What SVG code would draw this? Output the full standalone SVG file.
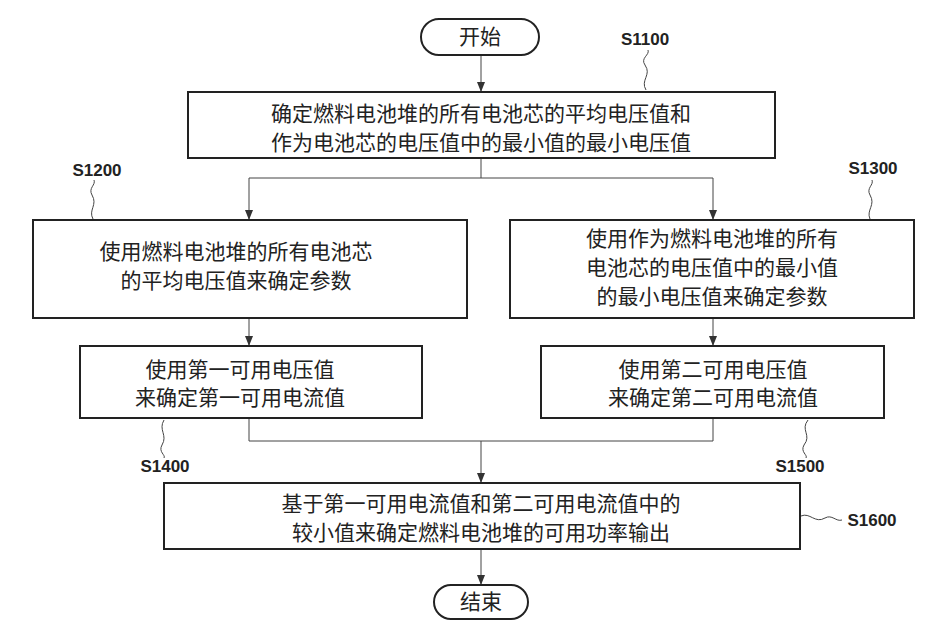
<svg xmlns="http://www.w3.org/2000/svg" width="925" height="638" viewBox="0 0 925 638">
<style>
.b{fill:#fff;stroke:#222;stroke-width:2}
.t{font-family:"Liberation Sans","Noto Sans CJK SC",sans-serif;font-size:21px;fill:#222;text-anchor:middle}
.l{font-family:"Liberation Sans",sans-serif;font-size:17px;font-weight:bold;fill:#222;text-anchor:middle}
.c{fill:none;stroke:#444;stroke-width:1}
</style>
<defs><marker id="a" markerWidth="10" markerHeight="8" refX="9" refY="4" orient="auto" markerUnits="userSpaceOnUse"><path d="M0,0 L10,4 L0,8 Z" fill="#333"/></marker></defs>
<rect width="925" height="638" fill="#fff"/>
<g id="connectors">
<line class="c" x1="481" y1="55" x2="481" y2="91" marker-end="url(#a)"/>
<path class="c" d="M481,158 V178 M249,178 H713"/>
<line class="c" x1="249" y1="178" x2="249" y2="219" marker-end="url(#a)"/>
<line class="c" x1="713" y1="178" x2="713" y2="219" marker-end="url(#a)"/>
<line class="c" x1="249" y1="318" x2="249" y2="345" marker-end="url(#a)"/>
<line class="c" x1="713" y1="318" x2="713" y2="345" marker-end="url(#a)"/>
<path class="c" d="M249,418 V441 H713 V418"/>
<line class="c" x1="481" y1="441" x2="481" y2="482" marker-end="url(#a)"/>
<line class="c" x1="481" y1="549" x2="481" y2="584" marker-end="url(#a)"/>
<path class="c" d="M646,90 C640,80 652,75 645,65 C640,58 650,55 648,50"/>
<path class="c" d="M93,219 C88,210 98,205 92,195 C88,188 96,185 94,180"/>
<path class="c" d="M870,219 C866,210 876,205 870,195 C866,188 874,185 872,180"/>
<path class="c" d="M164,420 C158,430 168,435 162,445 C158,452 166,455 164,458"/>
<path class="c" d="M808,420 C800,430 812,435 804,445 C800,452 808,455 806,458"/>
<path class="c" d="M801,516 C810,512 815,524 825,518 C832,514 836,522 842,520"/>
</g>
<g id="start"><rect class="b" x="421" y="19" width="118" height="36" rx="18"/><text class="t" x="480" y="44">开始</text></g>
<g id="s1100"><rect class="b" x="188" y="92" width="587" height="66"/><text class="t" x="481" y="121">确定燃料电池堆的所有电池芯的平均电压值和</text><text class="t" x="481" y="150">作为电池芯的电压值中的最小值的最小电压值</text><text class="l" x="645" y="45">S1100</text></g>
<g id="s1200"><rect class="b" x="33" y="220" width="434" height="98"/><text class="t" x="236" y="259">使用燃料电池堆的所有电池芯</text><text class="t" x="236" y="288">的平均电压值来确定参数</text><text class="l" x="97" y="176">S1200</text></g>
<g id="s1300"><rect class="b" x="510" y="220" width="404" height="98"/><text class="t" x="712" y="246">使用作为燃料电池堆的所有</text><text class="t" x="712" y="275">电池芯的电压值中的最小值</text><text class="l" x="873" y="174">S1300</text><text class="t" x="712" y="304">的最小电压值来确定参数</text></g>
<g id="s1400"><rect class="b" x="80" y="346" width="342" height="72"/><text class="t" x="240" y="377">使用第一可用电压值</text><text class="t" x="240" y="405">来确定第一可用电流值</text><text class="l" x="165" y="472">S1400</text></g>
<g id="s1500"><rect class="b" x="541" y="346" width="343" height="72"/><text class="t" x="713" y="377">使用第二可用电压值</text><text class="t" x="713" y="405">来确定第二可用电流值</text><text class="l" x="800" y="472">S1500</text></g>
<g id="s1600"><rect class="b" x="164" y="483" width="636" height="66"/><text class="t" x="481" y="511">基于第一可用电流值和第二可用电流值中的</text><text class="t" x="481" y="540">较小值来确定燃料电池堆的可用功率输出</text><text class="l" x="872" y="526">S1600</text></g>
<g id="end"><rect class="b" x="434" y="585" width="94" height="34" rx="17"/><text class="t" x="481" y="609">结束</text></g>
</svg>
